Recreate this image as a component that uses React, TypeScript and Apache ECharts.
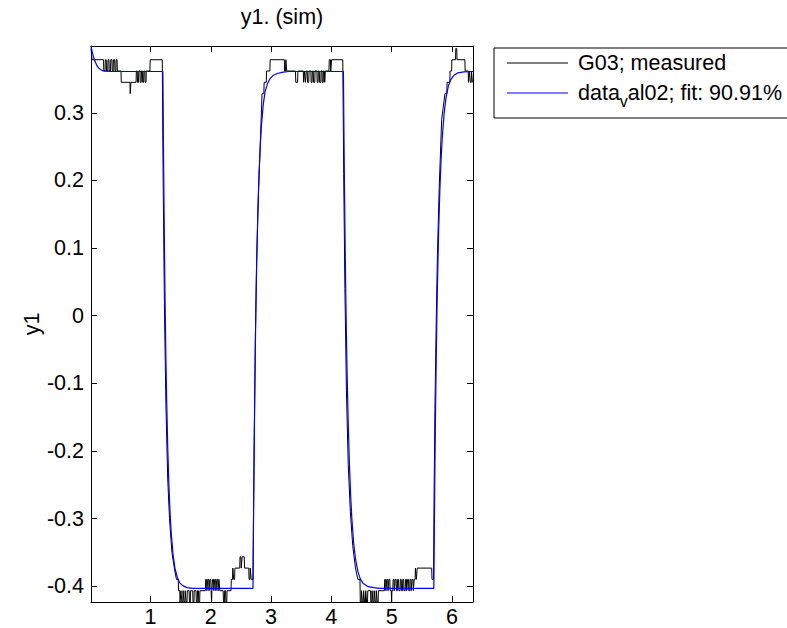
import React, { useEffect, useRef } from "react";
import * as echarts from "echarts";

// quantization levels of the measured signal
const A = 0.3951, B = 0.3784, C = 0.3617, D = 0.345, E = 0.3283;
const P = -0.3564, Q = -0.3731, R = -0.3898, S = -0.4065, T = -0.4232;

const xTicks = [1, 2, 3, 4, 5, 6];
const yTicks = [-0.4, -0.3, -0.2, -0.1, 0, 0.1, 0.2, 0.3];

const measuredName = "G03; measured";
const simName = "data_val02; fit: 90.91%";

const measured: [number, number][] = [
  [0.0125, A], [0.03, B], [0.22, B],
  [0.225, C], [0.245, C], [0.25, B], [0.265, B], [0.27, C], [0.29, C], [0.295, B], [0.31, B], [0.315, C], [0.335, C], [0.34, B], [0.36, B], [0.365, C], [0.38, C], [0.385, B], [0.405, B], [0.41, C], [0.425, C], [0.43, B], [0.445, B], [0.45, C],
  [0.51, C], [0.515, D], [0.66, D], [0.663, E], [0.672, E], [0.675, D], [0.76, D],
  [0.765, C], [0.78, C], [0.785, D], [0.8, D], [0.805, C], [0.825, C], [0.83, D], [0.845, D], [0.85, C], [0.865, C], [0.87, D], [0.885, D], [0.89, C], [0.905, C], [0.91, D], [0.925, D], [0.93, C],
  [0.99, C], [0.995, B], [1.195, B],
  [1.21, 0.2], [1.23, 0.02], [1.255, -0.13], [1.285, -0.24], [1.315, -0.3], [1.355, -0.35], [1.395, Q], [1.43, R], [1.46, R], [1.465, S], [1.485, S],
  [1.49, T], [1.5, T], [1.505, S], [1.515, S], [1.52, T], [1.535, T], [1.54, S], [1.55, S], [1.555, T], [1.57, T], [1.575, S], [1.585, S], [1.59, T], [1.605, T], [1.61, S], [1.64, S], [1.645, T], [1.66, T], [1.665, S], [1.7, S], [1.705, T], [1.72, T], [1.725, S], [1.755, S], [1.76, T], [1.775, T], [1.78, S], [1.795, S], [1.8, T], [1.815, T], [1.82, S],
  [1.91, S], [1.915, R], [1.93, R], [1.935, S], [1.945, S], [1.95, R], [1.965, R], [1.97, S], [1.98, S], [1.985, R], [2.0, R], [2.005, S], [2.01, S], [2.013, T], [2.018, S], [2.025, S], [2.03, R], [2.045, R], [2.05, S], [2.06, S], [2.065, R], [2.08, R], [2.085, S], [2.095, S], [2.1, R], [2.115, R], [2.12, S], [2.13, S], [2.135, R], [2.145, R], [2.15, S],
  [2.205, S], [2.21, T], [2.225, T], [2.23, S], [2.245, S], [2.25, T], [2.265, T], [2.27, S],
  [2.335, S], [2.34, R], [2.36, R], [2.365, Q], [2.375, Q], [2.38, R], [2.395, R], [2.4, Q], [2.48, Q], [2.485, P], [2.5, P], [2.505, Q], [2.515, Q], [2.52, P], [2.555, P], [2.56, Q], [2.63, Q], [2.635, R], [2.65, R], [2.655, Q], [2.665, Q], [2.67, R], [2.7, R],
  [2.71, -0.28], [2.725, -0.15], [2.74, -0.03], [2.76, 0.08], [2.79, 0.18], [2.82, 0.25], [2.85, E], [2.88, E], [2.885, D], [2.92, D], [2.925, C], [2.98, C], [2.985, B], [3.22, B], [3.225, C], [3.24, C], [3.245, B], [3.255, B], [3.26, C], [3.405, C], [3.41, D], [3.44, D], [3.445, C], [3.535, C],
  [3.54, D], [3.55, D], [3.555, C], [3.565, C], [3.57, D], [3.58, D], [3.585, C], [3.6, C], [3.605, D], [3.625, D], [3.63, C], [3.66, C], [3.665, D], [3.68, D], [3.685, C], [3.7, C], [3.705, D], [3.725, D], [3.73, C], [3.76, C], [3.765, D], [3.78, D], [3.785, C], [3.8, C], [3.805, D], [3.825, D], [3.83, C], [3.845, C], [3.85, D], [3.865, D], [3.87, C], [3.885, C], [3.89, D], [3.895, D], [3.9, C],
  [3.96, C], [3.965, B], [3.985, B], [3.99, C], [4.0, C], [4.005, B], [4.19, B],
  [4.205, 0.21], [4.225, 0.04], [4.25, -0.11], [4.28, -0.22], [4.315, -0.29], [4.355, -0.34], [4.4, Q], [4.44, R], [4.475, R],
  [4.48, T], [4.495, T], [4.5, S], [4.51, S], [4.515, T], [4.53, T], [4.535, S], [4.545, S], [4.55, T], [4.565, T], [4.57, S], [4.58, S], [4.585, T], [4.6, T], [4.605, S], [4.65, S], [4.655, T], [4.67, T], [4.675, S], [4.685, S], [4.69, T], [4.705, T], [4.71, S], [4.72, S], [4.725, T], [4.74, T], [4.745, S], [4.755, S], [4.76, T], [4.775, T], [4.78, S],
  [4.88, S], [4.885, R], [4.9, R], [4.905, S], [4.915, S], [4.92, R], [4.935, R], [4.94, S], [4.95, S], [4.955, R], [4.97, R], [4.975, S], [4.995, S], [5.0, T], [5.005, S], [5.02, S], [5.025, R], [5.04, R], [5.045, S], [5.055, S], [5.06, R], [5.075, R], [5.08, S], [5.095, S], [5.1, R], [5.115, R], [5.12, S], [5.14, S], [5.145, R], [5.16, R], [5.165, S], [5.18, S], [5.185, R], [5.2, R], [5.205, S], [5.225, S], [5.23, R], [5.245, R], [5.25, S], [5.26, S], [5.265, R], [5.28, R], [5.285, S], [5.3, S], [5.305, R], [5.32, R], [5.325, S], [5.335, S], [5.34, R], [5.355, R], [5.36, S], [5.37, S],
  [5.375, R], [5.39, R], [5.395, Q], [5.405, Q], [5.41, R], [5.42, R], [5.425, Q], [5.665, Q], [5.67, R], [5.695, R],
  [5.705, -0.26], [5.72, -0.13], [5.74, -0.01], [5.76, 0.09], [5.79, 0.19], [5.83, 0.29], [5.885, E], [5.915, E], [5.92, D], [5.965, D], [5.97, C], [5.995, C], [6.0, B], [6.06, B], [6.065, A], [6.08, A], [6.085, B], [6.215, B], [6.22, C], [6.27, C], [6.275, D], [6.285, D], [6.29, C], [6.3, C], [6.305, D], [6.32, D], [6.325, C], [6.335, C], [6.34, D], [6.35, D],
];

const simulated: [number, number][] = [
  [0.0125, 0.3987], [0.03, 0.391], [0.05, 0.384], [0.07, 0.378], [0.09, 0.374], [0.11, 0.37], [0.14, 0.366], [0.17, 0.364], [0.21, 0.362], [0.26, 0.3615], [0.35, 0.361], [1.205, 0.361],
  [1.215, 0.247], [1.225, 0.15], [1.235, 0.068], [1.245, -0.002], [1.255, -0.062], [1.265, -0.113], [1.285, -0.193], [1.305, -0.251], [1.325, -0.293], [1.345, -0.323], [1.375, -0.354], [1.405, -0.373], [1.445, -0.387], [1.485, -0.395], [1.535, -0.399], [1.605, -0.402], [1.705, -0.403], [2.7, -0.403],
  [2.71, -0.289], [2.72, -0.192], [2.73, -0.11], [2.74, -0.04], [2.75, 0.02], [2.76, 0.071], [2.78, 0.151], [2.8, 0.209], [2.82, 0.251], [2.84, 0.281], [2.87, 0.312], [2.9, 0.331], [2.94, 0.343], [2.98, 0.35], [3.03, 0.355], [3.1, 0.358], [3.2, 0.36], [3.3, 0.361], [4.2, 0.361],
  [4.21, 0.259], [4.22, 0.171], [4.23, 0.094], [4.24, 0.029], [4.25, -0.029], [4.26, -0.079], [4.28, -0.159], [4.3, -0.22], [4.32, -0.265], [4.34, -0.3], [4.37, -0.336], [4.4, -0.359], [4.44, -0.378], [4.48, -0.389], [4.53, -0.396], [4.6, -0.4], [4.7, -0.402], [4.8, -0.403], [5.7, -0.403],
  [5.71, -0.298], [5.72, -0.208], [5.73, -0.13], [5.74, -0.063], [5.75, -0.005], [5.76, 0.045], [5.78, 0.126], [5.8, 0.185], [5.82, 0.23], [5.84, 0.263], [5.87, 0.298], [5.9, 0.321], [5.94, 0.339], [5.98, 0.349], [6.03, 0.355], [6.1, 0.359], [6.2, 0.3605], [6.35, 0.361],
];

const X_MIN = 0.0125, X_MAX = 6.35;
const Y_MIN = -0.4232, Y_MAX = 0.3987;

const FONT = "'Liberation Sans', Arial, Helvetica, sans-serif";
const FS = 21.5;

export default function App() {
  const ref = useRef<HTMLDivElement>(null);
  useEffect(() => {
    if (!ref.current) return;
    const chart = echarts.init(ref.current, undefined, { renderer: "svg" });
    const fmtY = (v: number) => {
      const r = Math.round(v * 10) / 10;
      return r === 0 ? "0" : String(r);
    };
    const axisCommon = {
      type: "value" as const,
      axisLine: { show: true, onZero: false, lineStyle: { color: "#000", width: 1 } },
      splitLine: { show: false },
    };
    chart.setOption({
      animation: false,
      backgroundColor: "#fff",
      textStyle: { fontFamily: FONT },
      title: {
        text: "y1. (sim)",
        left: 282,
        top: 6,
        padding: 0,
        textAlign: "center",
        textStyle: { fontFamily: FONT, fontSize: FS, fontWeight: "normal", color: "#000" },
      },
      legend: {
        orient: "vertical",
        left: 494,
        top: 48,
        padding: [4, 40, 9, 13],
        itemGap: 3,
        itemWidth: 61,
        itemHeight: 1,
        icon: "rect",
        borderColor: "#000",
        borderWidth: 1,
        borderRadius: 0,
        backgroundColor: "#fff",
        data: [measuredName, simName],
        formatter: (name: string) =>
          name === simName ? "{m|data}{sub|v}{m|al02; fit: 90.91%}" : "{m|" + name + "}",
        textStyle: {
          fontFamily: FONT,
          fontSize: FS,
          color: "#000",
          padding: [0, 0, 0, 5],
          rich: {
            m: { fontFamily: FONT, fontSize: FS, color: "#000" },
            sub: { fontFamily: FONT, fontSize: 16, color: "#000", lineHeight: 14, padding: [16, 0, 0, 0] },
          },
        },
      },
      grid: { left: 91, top: 46, width: 382, height: 556, containLabel: false },
      xAxis: [
        {
          ...axisCommon,
          min: X_MIN,
          max: X_MAX,
          position: "bottom",
          axisTick: { show: true, inside: true, length: 6, customValues: xTicks, lineStyle: { color: "#000" } },
          axisLabel: { show: true, customValues: xTicks, color: "#000", fontFamily: FONT, fontSize: FS, margin: 4 },
        },
        {
          ...axisCommon,
          min: X_MIN,
          max: X_MAX,
          position: "top",
          axisTick: { show: true, inside: true, length: 6, customValues: xTicks, lineStyle: { color: "#000" } },
          axisLabel: { show: false },
        },
      ],
      yAxis: [
        {
          ...axisCommon,
          min: Y_MIN,
          max: Y_MAX,
          position: "left",
          name: "y1",
          nameLocation: "middle",
          nameGap: 46,
          nameTextStyle: { fontFamily: FONT, fontSize: FS, color: "#000" },
          axisTick: { show: true, inside: true, length: 6, customValues: yTicks, lineStyle: { color: "#000" } },
          axisLabel: { show: true, customValues: yTicks, color: "#000", fontFamily: FONT, fontSize: FS, margin: 7, formatter: fmtY },
        },
        {
          ...axisCommon,
          min: Y_MIN,
          max: Y_MAX,
          position: "right",
          axisTick: { show: true, inside: true, length: 6, customValues: yTicks, lineStyle: { color: "#000" } },
          axisLabel: { show: false },
        },
      ],
      series: [
        {
          name: measuredName,
          type: "line",
          xAxisIndex: 0,
          yAxisIndex: 0,
          data: measured,
          symbol: "none",
          showSymbol: false,
          lineStyle: { color: "#000", width: 1 },
          itemStyle: { color: "#000" },
          clip: true,
        },
        {
          name: simName,
          type: "line",
          xAxisIndex: 0,
          yAxisIndex: 0,
          data: simulated,
          symbol: "none",
          showSymbol: false,
          lineStyle: { color: "#0000ff", width: 1.2 },
          itemStyle: { color: "#0000ff" },
          clip: true,
        },
      ],
    });
    return () => chart.dispose();
  }, []);
  return (
    <div
      ref={ref}
      style={{ position: "fixed", left: 0, top: 0, width: 787, height: 628, background: "#fff" }}
    />
  );
}
